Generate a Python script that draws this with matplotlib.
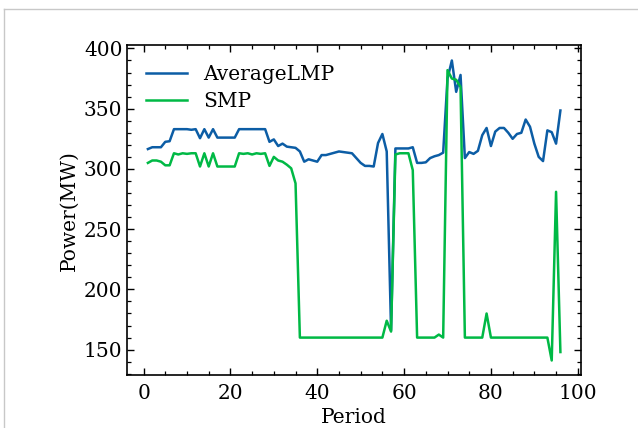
import numpy as np
import matplotlib.pyplot as plt
from matplotlib.lines import Line2D
from matplotlib.ticker import MultipleLocator

# Period 1..96
period = np.arange(1, 97)

average_lmp = [
    316.5, 318, 318, 318, 322.5, 323, 333, 333, 333, 333,
    332.5, 333, 325.5, 333, 326, 333, 326, 326, 326, 326,
    326, 333, 333, 333, 333, 333, 333, 333, 322.5, 324.5,
    319, 321, 318.5, 318, 317.5, 314.5, 306, 308, 307, 306,
    311.5, 311.5, 312.5, 313.5, 314.5, 314, 313.5, 313, 309, 305,
    302.5, 302.5, 302, 321.5, 329, 314.5, 166, 317, 317, 317,
    317, 318, 305, 305, 305.5, 309, 310.5, 311.5, 313.5, 375,
    390, 364, 378, 309, 314, 312.5, 315, 328, 334, 319,
    331, 334, 334, 330, 325, 329, 330, 341, 335, 321,
    310, 306.5, 332, 330.5, 321, 348.5,
]

smp = [
    305, 307, 307, 306, 303, 303, 313, 312, 313, 312.5,
    313, 313, 302, 313, 302, 313, 302, 302, 302, 302,
    302, 313, 312.5, 313, 312, 313, 312.5, 313, 302.5, 310,
    307, 306, 303.5, 300.5, 288, 160, 160, 160, 160, 160,
    160, 160, 160, 160, 160, 160, 160, 160, 160, 160,
    160, 160, 160, 160, 160, 174, 165, 312, 313, 313,
    313, 299, 160, 160, 160, 160, 160, 162.5, 160, 382,
    375, 374, 368, 160, 160, 160, 160, 160, 180, 160,
    160, 160, 160, 160, 160, 160, 160, 160, 160, 160,
    160, 160, 160, 141, 281, 148,
]

plt.rcParams['font.family'] = ['DejaVu Serif']
plt.rcParams['mathtext.fontset'] = 'dejavuserif'

fig = plt.figure(figsize=(6.38, 4.28), dpi=100)
ax = fig.add_axes([0.1995, 0.1227, 0.7112, 0.771])

ax.plot(period, average_lmp, color="#0C5DA5", lw=1.8, label="AverageLMP")
ax.plot(period, smp, color="#00B945", lw=1.8, label="SMP")

ax.set_xlabel("Period", fontsize=14.5, labelpad=3.5)
ax.set_ylabel("Power(MW)", fontsize=14.5, labelpad=4)

ax.xaxis.set_major_locator(MultipleLocator(20))
ax.xaxis.set_minor_locator(MultipleLocator(5))
ax.yaxis.set_major_locator(MultipleLocator(50))
ax.yaxis.set_minor_locator(MultipleLocator(10))
ax.tick_params(which="both", direction="in", top=True, right=True, labelsize=14.5)
ax.tick_params(which="major", length=5, width=1)
ax.tick_params(axis="x", which="major", pad=6)
ax.tick_params(which="minor", length=2.8, width=0.9)
for s in ax.spines.values():
    s.set_linewidth(1.2)

ax.legend(loc="upper left", frameon=False, fontsize=14.5,
          handlelength=2.0, borderaxespad=0.55, labelspacing=0.4)

# screenshot frame
fig.add_artist(Line2D([4 / 638, 1], [1 - 9 / 428, 1 - 9 / 428],
                      transform=fig.transFigure, color="#c8c8c8", lw=1))
fig.add_artist(Line2D([4 / 638, 4 / 638], [0, 1 - 9 / 428],
                      transform=fig.transFigure, color="#c8c8c8", lw=1))

fig.savefig("out.png", dpi=100)
